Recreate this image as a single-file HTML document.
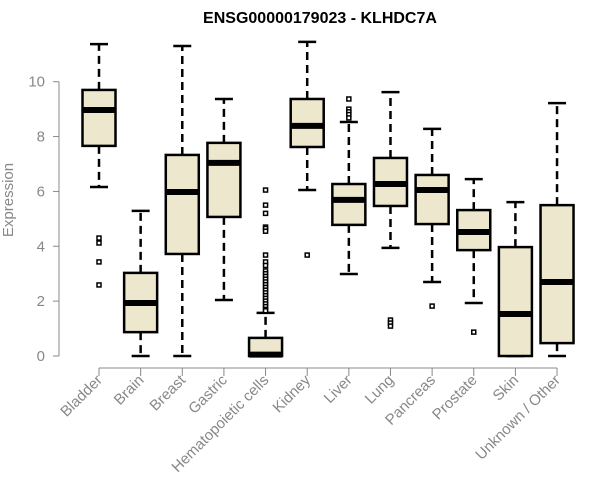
<!DOCTYPE html>
<html><head><meta charset="utf-8"><style>body{margin:0;background:#fff}svg{display:block;font-family:"Liberation Sans",sans-serif}</style></head>
<body>
<svg id="chart" width="600" height="500" viewBox="0 0 600 500">
<text x="320" y="23" text-anchor="middle" font-weight="bold" font-size="16">ENSG00000179023 - KLHDC7A</text>
<text transform="translate(13,200) rotate(-90)" text-anchor="middle" font-size="15" fill="#888">Expression</text>
<g id="axes"></g><g id="boxes"></g>
</svg>
<script>
const categories=["Bladder","Brain","Breast","Gastric","Hematopoietic cells","Kidney","Liver","Lung","Pancreas","Prostate","Skin","Unknown / Other"];
const lowerWhisker=[6.16,0,0,2.04,0,6.05,2.99,3.94,2.7,1.93,0,0];
const q1=[7.66,0.87,3.72,5.07,0,7.62,4.78,5.47,4.81,3.86,0,0.47];
const medians=[8.97,1.93,5.98,7.04,0.05,8.39,5.69,6.27,6.05,4.52,1.53,2.7];
const q3=[9.7,3.03,7.33,7.77,0.66,9.37,6.27,7.22,6.6,5.32,3.97,5.5];
const upperWhisker=[11.37,5.29,11.3,9.37,1.57,11.45,8.53,9.62,8.28,6.45,5.61,9.22];
const outliers=[[4.3,4.12,3.43,2.59],[],[],[],[6.05,5.5,5.2,4.7,4.65,4.55,3.68,3.43,3.3,3.1,3.0,2.9,2.8,2.7,2.6,2.5,2.4,2.3,2.2,2.1,2.0,1.9,1.8,1.7,1.65],[3.68],[9.37,9.0,8.9,8.8,8.68],[1.31,1.2,1.09],[1.82],[0.87],[],[]];
const yTicks=[0,2,4,6,8,10];
const NS="http://www.w3.org/2000/svg";
const y=v=>356-v*27.43;
const x=i=>99+i*41.64;
function mk(tag,attrs,parent){const e=document.createElementNS(NS,tag);for(const k in attrs)e.setAttribute(k,attrs[k]);parent.appendChild(e);return e;}
const ax=document.getElementById('axes'),bx=document.getElementById('boxes');
const yl=mk('line',{x1:59,x2:59,y1:y(0),y2:y(10),stroke:'#888'},ax);


yTicks.forEach(t=>{
  const l=mk('line',{x1:53,x2:59,y1:y(t),y2:y(t),stroke:'#888'},ax);
  
  
  const tx=mk('text',{x:45,y:y(t)+5,'text-anchor':'end','font-size':15,fill:'#888'},ax);tx.textContent=t;
  
  
});
const xl=mk('line',{x1:x(0),x2:x(categories.length-1),y1:368,y2:368,stroke:'#888'},ax);


categories.forEach((c,i)=>{
  const cx=x(i);
  const t=mk('line',{x1:cx,x2:cx,y1:368,y2:376,stroke:'#888'},ax);
  
  
  const lb=mk('text',{transform:`translate(${cx+4},381) rotate(-45)`,'text-anchor':'end','font-size':15,fill:'#888'},ax);lb.textContent=c;
  
  
  const g=mk('g',{},bx);
  
  
  const w=16.5;
  mk('line',{x1:cx,x2:cx,y1:y(q3[i]),y2:y(upperWhisker[i]),stroke:'#000','stroke-width':2.5,'stroke-dasharray':'8,5'},g);
  mk('line',{x1:cx,x2:cx,y1:y(q1[i]),y2:y(lowerWhisker[i]),stroke:'#000','stroke-width':2.5,'stroke-dasharray':'8,5'},g);
  mk('line',{x1:cx-9,x2:cx+9,y1:y(upperWhisker[i]),y2:y(upperWhisker[i]),stroke:'#000','stroke-width':2.5},g);
  mk('line',{x1:cx-9,x2:cx+9,y1:y(lowerWhisker[i]),y2:y(lowerWhisker[i]),stroke:'#000','stroke-width':2.5},g);
  mk('rect',{x:cx-w,y:y(q3[i]),width:2*w,height:Math.max(y(q1[i])-y(q3[i]),0.5),fill:'#ede7cd',stroke:'#000','stroke-width':2.5},g);
  mk('line',{x1:cx-w,x2:cx+w,y1:y(medians[i]),y2:y(medians[i]),stroke:'#000','stroke-width':6},g);
  outliers[i].forEach(o=>{
    const p=mk('rect',{x:cx-2,y:y(o)-2,width:4,height:4,fill:'#fff',stroke:'#000','stroke-width':1.5},g);
    
    
  });
});
</script>
</body></html>
